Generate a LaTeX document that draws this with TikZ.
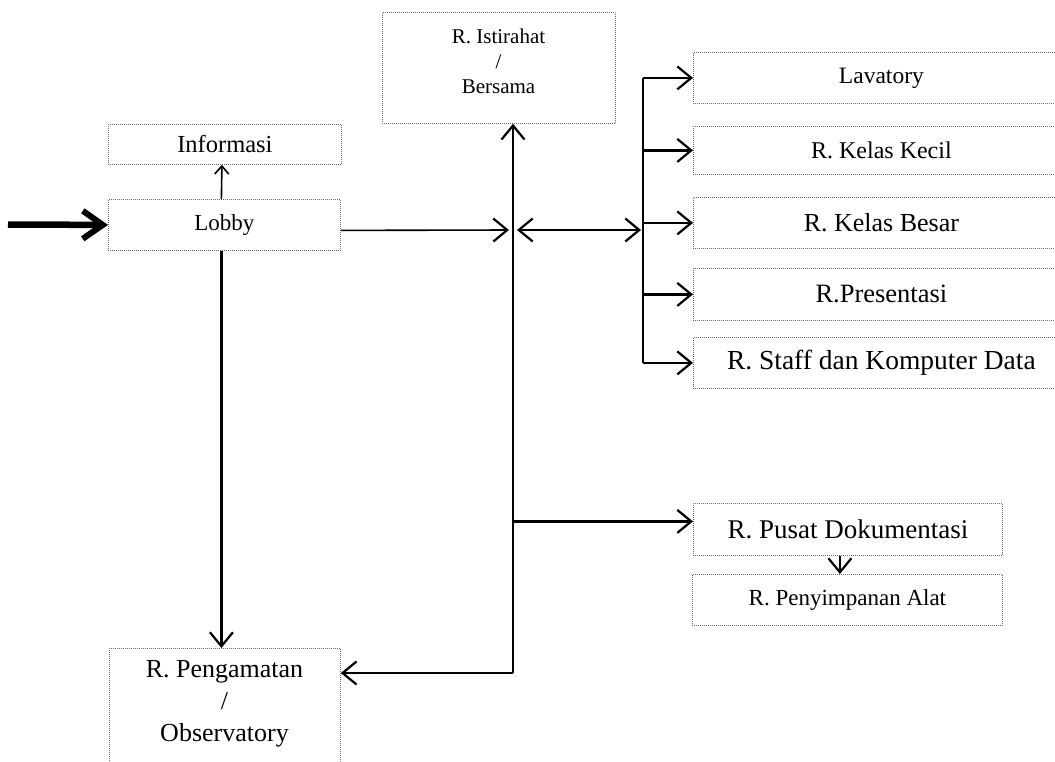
\documentclass[tikz,border=0pt]{standalone}
\usepackage{fontspec}
\setmainfont{Liberation Serif}
\usetikzlibrary{arrows.meta}
\newcommand\fsz[1]{\fontsize{#1}{#1}\selectfont}
\begin{document}
\begin{tikzpicture}[x=1pt,y=-1pt,
  room/.style={draw=black!60, line width=0.8pt, dash pattern=on 0.9pt off 1.1pt,
    inner sep=0pt, anchor=north west},
  conn/.style={line width=2.4pt},
  thin conn/.style={line width=1.6pt},
  tip/.style={-{Straight Barb[length=14pt,width=23pt,line width=2.2pt]}},
  both tips/.style={{Straight Barb[length=14pt,width=23pt,line width=2.2pt]}-{Straight Barb[length=14pt,width=23pt,line width=2.2pt]}},
  small tip/.style={-{Straight Barb[length=8pt,width=14pt,line width=1.6pt]}},
  entry/.style={line width=6.5pt,-{Straight Barb[length=20pt,width=28pt,line width=6pt]}}
]
\useasboundingbox (0,0) rectangle (1055,761);
\clip (0,0) rectangle (1055,761);

% rooms
\node[room, minimum width=233pt, minimum height=40pt] (info) at (108,124) {\fsz{24.5}Informasi};
\node[room, minimum width=232pt, minimum height=51pt] (lobby) at (108,199) {\fsz{23}Lobby};
\node[room, minimum width=233pt, minimum height=111pt] (ist) at (382,12) {};
\node[align=center, font=\fsz{21}, inner sep=0pt] (istlabel) at (498.5,61)
  {R. Istirahat\\[4pt]/\\[4pt]Bersama};

% the teaching rooms run on past the right edge of the sheet
\node[room, minimum width=376pt, minimum height=51pt] (lav) at (693,52) {\fsz{23.5}Lavatory};
\node[room, minimum width=376pt, minimum height=48pt] (kecil) at (693,126) {\fsz{24}R. Kelas Kecil};
\node[room, minimum width=376pt, minimum height=51pt] (besar) at (693,197) {\fsz{26}R.\ Kelas Besar};
\node[room, minimum width=376pt, minimum height=52pt] (pres) at (693,268) {\fsz{26.5}R.Presentasi};
\node[room, minimum width=376pt, minimum height=51pt] (staff) at (693,337) {\fsz{27.5}R.\ Staff dan Komputer Data};

\node[room, minimum width=309pt, minimum height=52pt] (pusat) at (693,503) {\fsz{27}R. Pusat Dokumentasi};
\node[room, minimum width=310pt, minimum height=51pt] (simpan) at (692,574) {\fsz{23}R. Penyimpanan Alat};

\node[room, minimum width=231pt, minimum height=130pt] (amat) at (109,648) {};
\node[align=center, font=\fsz{26}, inner sep=0pt] (amatlabel) at (224.5,704)
  {R. Pengamatan\\[6pt]/\\[6pt]Observatory};

% junction points of the corridor lines
\coordinate (start) at (8,224.5);
\coordinate (j) at (513,230);
\coordinate (sb) at (513,673);
\coordinate (bx) at (643,230);

% entrance
\draw[entry] (start) -- (lobby.west);

% lobby connections
\draw[thin conn, small tip] ([xshift=-3pt]lobby.north) -- ([xshift=-3pt]info.south);
\draw[thin conn, tip] ([yshift=-5.5pt]lobby.east) -- ([xshift=-4pt]j);
\draw[conn, tip] ([xshift=-3pt]lobby.south) -- ([xshift=-3pt]lobby.south |- amat.north);

% main spine
\draw[conn, tip] (sb) -- (sb |- ist.south);
\draw[conn, tip] (sb) -- (sb -| amat.east);
\draw[conn, both tips] ([xshift=4pt]j) -- ([xshift=-2pt]bx);

% branch to the teaching rooms
\draw[conn] (bx |- lav.west) -- (bx |- staff.west);
\foreach \r in {lav,kecil,besar,pres,staff}
  \draw[conn, tip] (bx |- \r.west) -- (\r.west);

% documentation wing
\coordinate (pj) at ([yshift=8pt]pusat.west);
\draw[conn, tip] (sb |- pj) -- (pj);
\draw[conn, tip] ([xshift=-8pt]pusat.south) -- ([xshift=-8pt]pusat.south |- simpan.north);
\end{tikzpicture}
\end{document}
